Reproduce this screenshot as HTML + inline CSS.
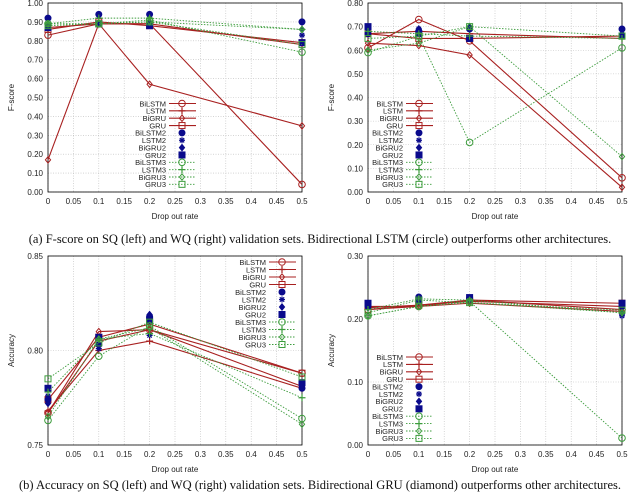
<!DOCTYPE html>
<html><head><meta charset="utf-8">
<style>
body{margin:0;background:#fff;}
svg{display:block;font-family:"Liberation Sans",sans-serif;}
.cap{font-family:"Liberation Serif",serif;font-size:12.5px;fill:#111;}
</style></head>
<body>
<svg id="fig" width="640" height="492" viewBox="0 0 640 492" xmlns="http://www.w3.org/2000/svg">
<text class="cap" x="320" y="243" text-anchor="middle">(a)  F-score on SQ (left) and WQ (right) validation sets. Bidirectional LSTM (circle) outperforms other architectures.</text>
<text class="cap" x="320" y="489" text-anchor="middle">(b)  Accuracy on SQ (left) and WQ (right) validation sets. Bidirectional GRU (diamond) outperforms other architectures.</text>
</svg>
<script>
const dropRates=[0,0.1,0.2,0.5];
const seriesNames=["BiLSTM","LSTM","BiGRU","GRU","BiLSTM2","LSTM2","BiGRU2","GRU2","BiLSTM3","LSTM3","BiGRU3","GRU3"];
const xTicks=[0,0.05,0.1,0.15,0.2,0.25,0.3,0.35,0.4,0.45,0.5];
const xTickLabels=["0","0.05","0.1","0.15","0.2","0.25","0.3","0.35","0.4","0.45","0.5"];
// panel a-left: F-score SQ
const fscoreSQ=[
[0.83,0.89,0.89,0.04],[0.87,0.89,0.89,0.78],[0.17,0.89,0.57,0.35],[0.86,0.90,0.88,0.79],
[0.92,0.94,0.94,0.90],[0.87,0.89,0.89,0.83],[0.88,0.89,0.90,0.86],[0.87,0.89,0.88,0.79],
[0.89,0.89,0.91,0.74],[0.89,0.92,0.92,0.86],[0.89,0.89,0.90,0.86],[0.88,0.89,0.90,0.78]];
const fscoreSQTicks=[0,0.1,0.2,0.3,0.4,0.5,0.6,0.7,0.8,0.9,1.0];
// panel a-right: F-score WQ
const fscoreWQ=[
[0.61,0.73,0.64,0.06],[0.67,0.68,0.67,0.65],[0.63,0.62,0.58,0.02],[0.67,0.65,0.65,0.66],
[0.67,0.68,0.69,0.69],[0.68,0.69,0.69,0.66],[0.69,0.69,0.70,0.67],[0.70,0.67,0.65,0.66],
[0.59,0.66,0.21,0.61],[0.68,0.67,0.66,0.65],[0.60,0.63,0.70,0.15],[0.65,0.66,0.70,0.66]];
const fscoreWQTicks=[0,0.1,0.2,0.3,0.4,0.5,0.6,0.7,0.8];
// panel b-left: accuracy SQ
const accSQ=[
[0.767,0.805,0.811,0.788],[0.768,0.800,0.805,0.780],[0.767,0.810,0.811,0.781],[0.774,0.807,0.814,0.788],
[0.774,0.803,0.818,0.780],[0.776,0.801,0.808,0.782],[0.772,0.803,0.819,0.781],[0.780,0.807,0.816,0.783],
[0.763,0.797,0.813,0.764],[0.778,0.806,0.809,0.775],[0.765,0.806,0.812,0.761],[0.785,0.804,0.815,0.786]];
const accSQTicks=[0.75,0.80,0.85];
// panel b-right: accuracy WQ
const accWQ=[
[0.215,0.220,0.230,0.215],[0.218,0.222,0.228,0.220],[0.220,0.220,0.225,0.212],[0.215,0.222,0.230,0.225],
[0.220,0.235,0.232,0.220],[0.222,0.230,0.232,0.205],[0.218,0.228,0.230,0.208],[0.225,0.230,0.234,0.225],
[0.205,0.220,0.228,0.011],[0.215,0.232,0.230,0.210],[0.205,0.220,0.226,0.210],[0.210,0.230,0.226,0.214]];
const accWQTicks=[0,0.1,0.2,0.3];

const NS="http://www.w3.org/2000/svg";
const svg=document.getElementById('fig');
function mk(tag,attrs,parent){const e=document.createElementNS(NS,tag);for(const k in attrs)e.setAttribute(k,attrs[k]);(parent||svg).appendChild(e);return e;}
const RED="#a82020",BLUE="#0a0a8c",GREEN="#3c9c3c";
function styleOf(i){const g=Math.floor(i/4),m=i%4;return {color:[RED,BLUE,GREEN][g],shape:m,filled:g===1,line:g!==1,dash:g===2};}
function marker(g,shape,x,y,color,filled){
  const f=filled?color:"none",sw=1;
  if(shape===0){const c=mk('circle',{cx:x,cy:y,r:filled?3:3.3,fill:f,stroke:color,'stroke-width':sw},g);}
  else if(shape===1){const p=mk('path',{d:filled?`M${x-3} ${y}H${x+3}M${x} ${y-3}V${y+3}M${x-2.2} ${y-2.2}L${x+2.2} ${y+2.2}M${x-2.2} ${y+2.2}L${x+2.2} ${y-2.2}`:`M${x-3.5} ${y}H${x+3.5}M${x} ${y-3.5}V${y+3.5}`,stroke:color,'stroke-width':1.2,fill:'none'},g);}
  else if(shape===2){const p=mk('path',{d:`M${x} ${y-3.2}L${x+2.6} ${y}L${x} ${y+3.2}L${x-2.6} ${y}Z`,fill:f,stroke:color,'stroke-width':sw},g);}
  else{const r=mk('rect',{x:x-3,y:y-3,width:6,height:6,fill:f,stroke:color,'stroke-width':sw},g);}
}
function panel(name,L,R,T,B,ymin,ymax,yticks,ydec,data,ytitle,legX,legY,legStep){
  const g=mk('g',{});
  
  
  const sx=v=>L+(v-0)/(0.5)*(R-L), sy=v=>B-(v-ymin)/(ymax-ymin)*(B-T);
  xTicks.forEach((t,i)=>{
    const x=sx(t);
    const gl=mk('line',{x1:x,x2:x,y1:T,y2:B,stroke:'#bbb','stroke-width':0.6,'stroke-dasharray':'1,1.5'},g);
    
    const tl=mk('text',{x:x,y:B+12,'font-size':8,'text-anchor':'middle',fill:'#222'},g);tl.textContent=xTickLabels[i];
    
  });
  yticks.forEach(t=>{
    const y=sy(t);
    const gl=mk('line',{x1:L,x2:R,y1:y,y2:y,stroke:'#bbb','stroke-width':0.6,'stroke-dasharray':'1,1.5'},g);
    
    const tl=mk('text',{x:L-5,y:y+3,'font-size':8,'text-anchor':'end',fill:'#222'},g);tl.textContent=t.toFixed(ydec);
    
  });
  const fr=mk('rect',{x:L,y:T,width:R-L,height:B-T,fill:'none',stroke:'#000','stroke-width':0.8},g);
  
  const xt=mk('text',{x:(L+R)/2,y:B+27,'font-size':8,'text-anchor':'middle',fill:'#222'},g);xt.textContent='Drop out rate';
  
  const yt=mk('text',{x:0,y:0,'font-size':8,'text-anchor':'middle',fill:'#222',transform:`translate(${L-34},${(T+B)/2}) rotate(-90)`},g);yt.textContent=ytitle;
  
  data.forEach((vals,i)=>{
    const st=styleOf(i);
    const sg=mk('g',{},g);
    
    
    if(st.line){
      const pts=vals.map((v,j)=>sx(dropRates[j])+','+sy(v)).join(' ');
      const pl=mk('polyline',{points:pts,fill:'none',stroke:st.color,'stroke-width':st.dash?0.9:1.1,'stroke-dasharray':st.dash?'1.5,1.5':'none'},sg);
      
    }
    vals.forEach((v,j)=>marker(sg,st.shape,sx(dropRates[j]),sy(v),st.color,st.filled));
  });
  const lg=mk('g',{},g);
  
  
  seriesNames.forEach((n,i)=>{
    const st=styleOf(i),y=legY+i*legStep;
    const eg=mk('g',{},lg);
    
    
    const t=mk('text',{x:legX,y:y+2.8,'font-size':7.5,'text-anchor':'end',fill:'#222'},eg);t.textContent=n;
    if(st.line){mk('line',{x1:legX+3,x2:legX+30,y1:y,y2:y,stroke:st.color,'stroke-width':st.dash?0.9:1.1,'stroke-dasharray':st.dash?'1.5,1.5':'none'},eg);}
    marker(eg,st.shape,legX+16,y,st.color,st.filled);
  });
}
panel('chart-fscore-sq',48,302,3,192,0,1,fscoreSQTicks,2,fscoreSQ,'F-score',166,103.5,7.35);
panel('chart-fscore-wq',368,622,3,192,0,0.8,fscoreWQTicks,2,fscoreWQ,'F-score',403,103.5,7.35);
panel('chart-accuracy-sq',48,302,256,445,0.75,0.85,accSQTicks,2,accSQ,'Accuracy',266,262,7.5);
panel('chart-accuracy-wq',368,622,256,445,0,0.3,accWQTicks,2,accWQ,'Accuracy',403,357,7.4);
</script>
</body></html>
